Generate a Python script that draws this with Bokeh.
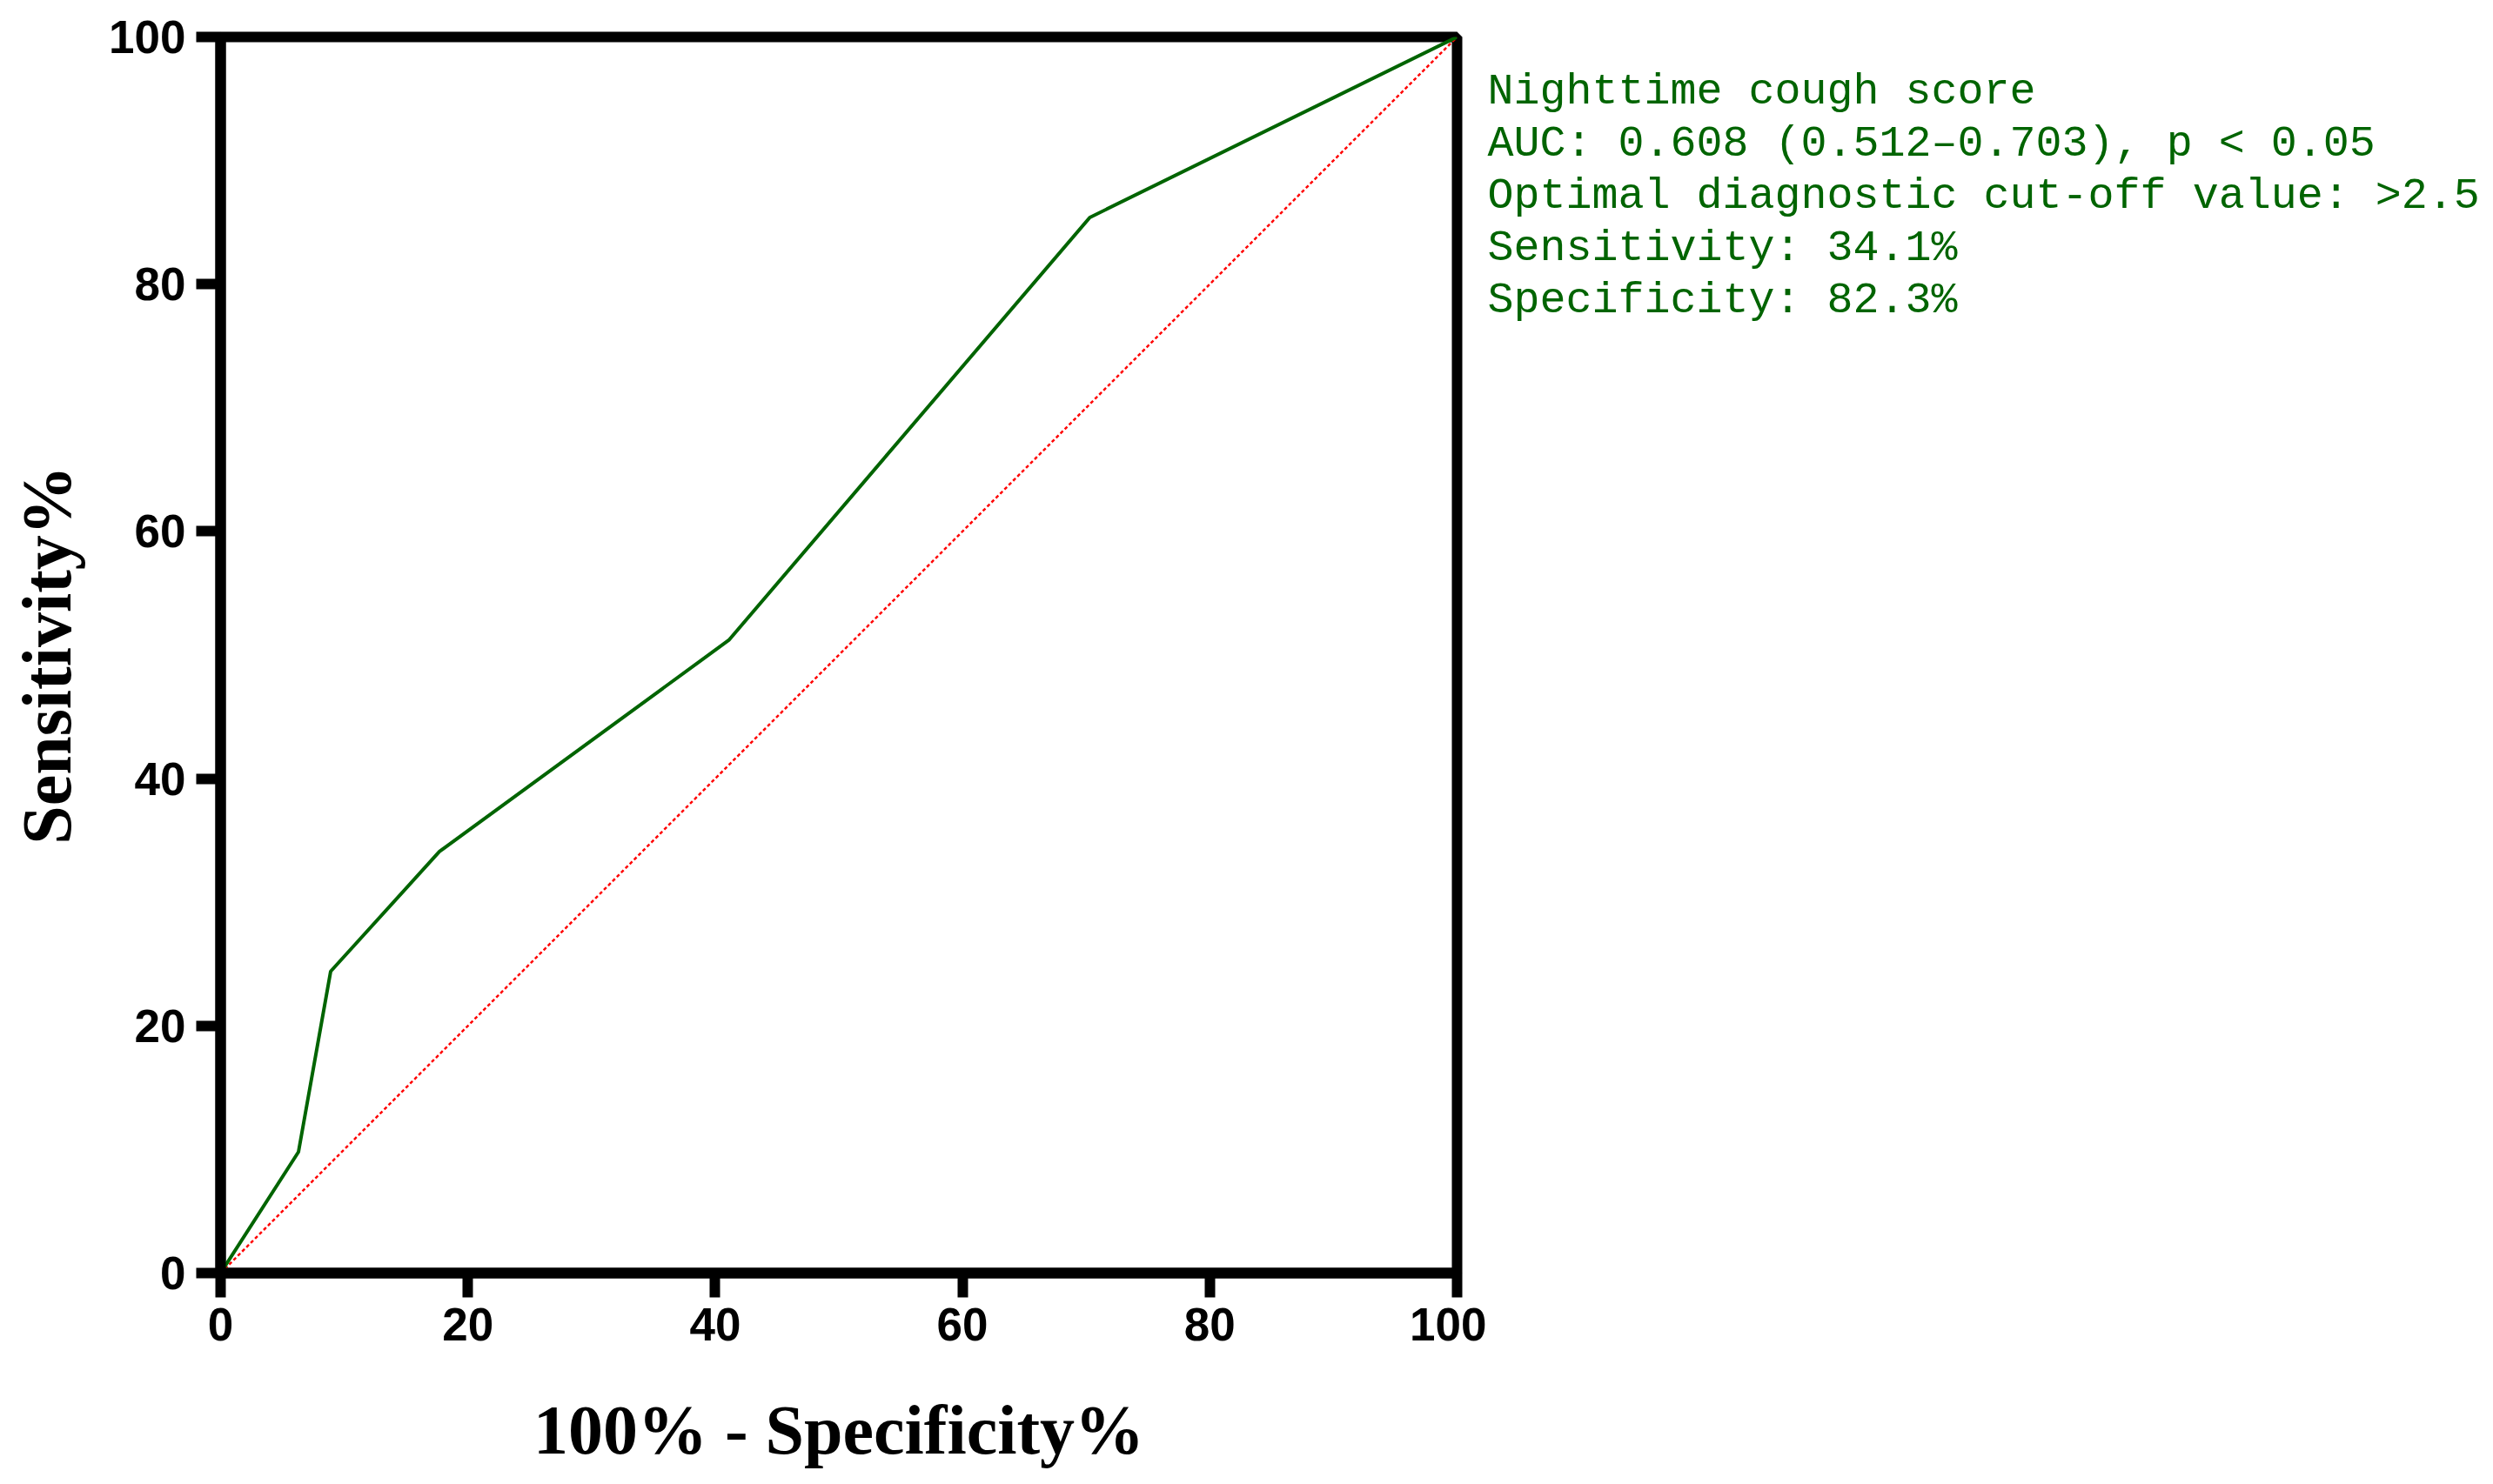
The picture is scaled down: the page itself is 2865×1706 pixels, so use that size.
from bokeh.plotting import figure
from bokeh.layouts import row
from bokeh.models import Range1d, FixedTicker, ColumnDataSource
from bokeh.core.properties import value
from bokeh.embed import file_html
from bokeh.resources import INLINE

# ROC curve (100% - Specificity%, Sensitivity%)
fpr = [0, 6.3, 8.9, 17.7, 41.1, 70.3, 100]
tpr = [0, 9.8, 24.4, 34.1, 51.2, 85.4, 100]
ref_x = [0, 100]
ref_y = [0, 100]
ticks = [0, 20, 40, 60, 80, 100]
info_lines = [
    "Nighttime cough score",
    "AUC: 0.608 (0.512\u20120.703), p < 0.05",
    "Optimal diagnostic cut-off value: >2.5",
    "Sensitivity: 34.1%",
    "Specificity: 82.3%",
]

H = 1690
FRAME = 1421
LEFT, TOP = 253, 42
W1 = LEFT + FRAME + 34
W2 = 2849 - W1

p = figure(width=W1, height=H, output_backend="svg", toolbar_location=None,
           x_range=Range1d(0, 100), y_range=Range1d(0, 100),
           min_border_left=LEFT, min_border_top=TOP,
           min_border_right=W1 - LEFT - FRAME, min_border_bottom=H - TOP - FRAME)
p.xgrid.visible = False
p.ygrid.visible = False
p.background_fill_color = "white"
p.border_fill_color = "white"
p.outline_line_color = "black"
p.outline_line_width = 12

for ax in (p.xaxis[0], p.yaxis[0]):
    ax.ticker = FixedTicker(ticks=ticks)
    ax.axis_line_width = 12
    ax.axis_line_color = "black"
    ax.major_tick_line_width = 12
    ax.major_tick_line_color = "black"
    ax.major_tick_out = 28
    ax.major_tick_in = 0
    ax.minor_tick_line_color = None
    ax.major_label_text_font = "Liberation Sans"
    ax.major_label_text_font_style = "bold"
    ax.major_label_text_font_size = "53px"
    ax.major_label_text_color = "black"
    ax.major_label_standoff = 12
    ax.axis_label_text_font = "Liberation Serif"
    ax.axis_label_text_font_style = "bold"
    ax.axis_label_text_font_size = "80px"
    ax.axis_label_text_color = "black"

p.xaxis.axis_label = "100% - Specificity%"
p.yaxis.axis_label = "Sensitivity%"
p.xaxis.axis_label_standoff = 56
p.yaxis.axis_label_standoff = 24

p.line(ref_x, ref_y, line_color="red", line_width=2.5, line_dash="4 3")
p.line(fpr, tpr, line_color="#006400", line_width=4)

# text block to the right of the plot; same vertical layout as the main figure
t = figure(width=W2, height=H, output_backend="svg", toolbar_location=None,
           x_range=Range1d(0, W2), y_range=Range1d(0, 100),
           x_axis_location=None, y_axis_location=None,
           min_border_left=0, min_border_right=0,
           min_border_top=TOP, min_border_bottom=H - TOP - FRAME,
           outline_line_color=None, background_fill_color="white",
           border_fill_color="white")
t.grid.visible = False
px = 100 / FRAME
line_gap = 60 * px
first_base = 100 - (113 - 8 - TOP) * px
src = ColumnDataSource(dict(
    x=[1] * len(info_lines),
    y=[first_base - i * line_gap for i in range(len(info_lines))],
    text=info_lines))
t.text(x="x", y="y", text="text", source=src,
       text_font=value("Liberation Mono"), text_font_size="50px",
       text_color="#006400", text_baseline="alphabetic", text_align="left")

layout = row(p, t)
open("out.html", "w").write(file_html(layout, INLINE))
